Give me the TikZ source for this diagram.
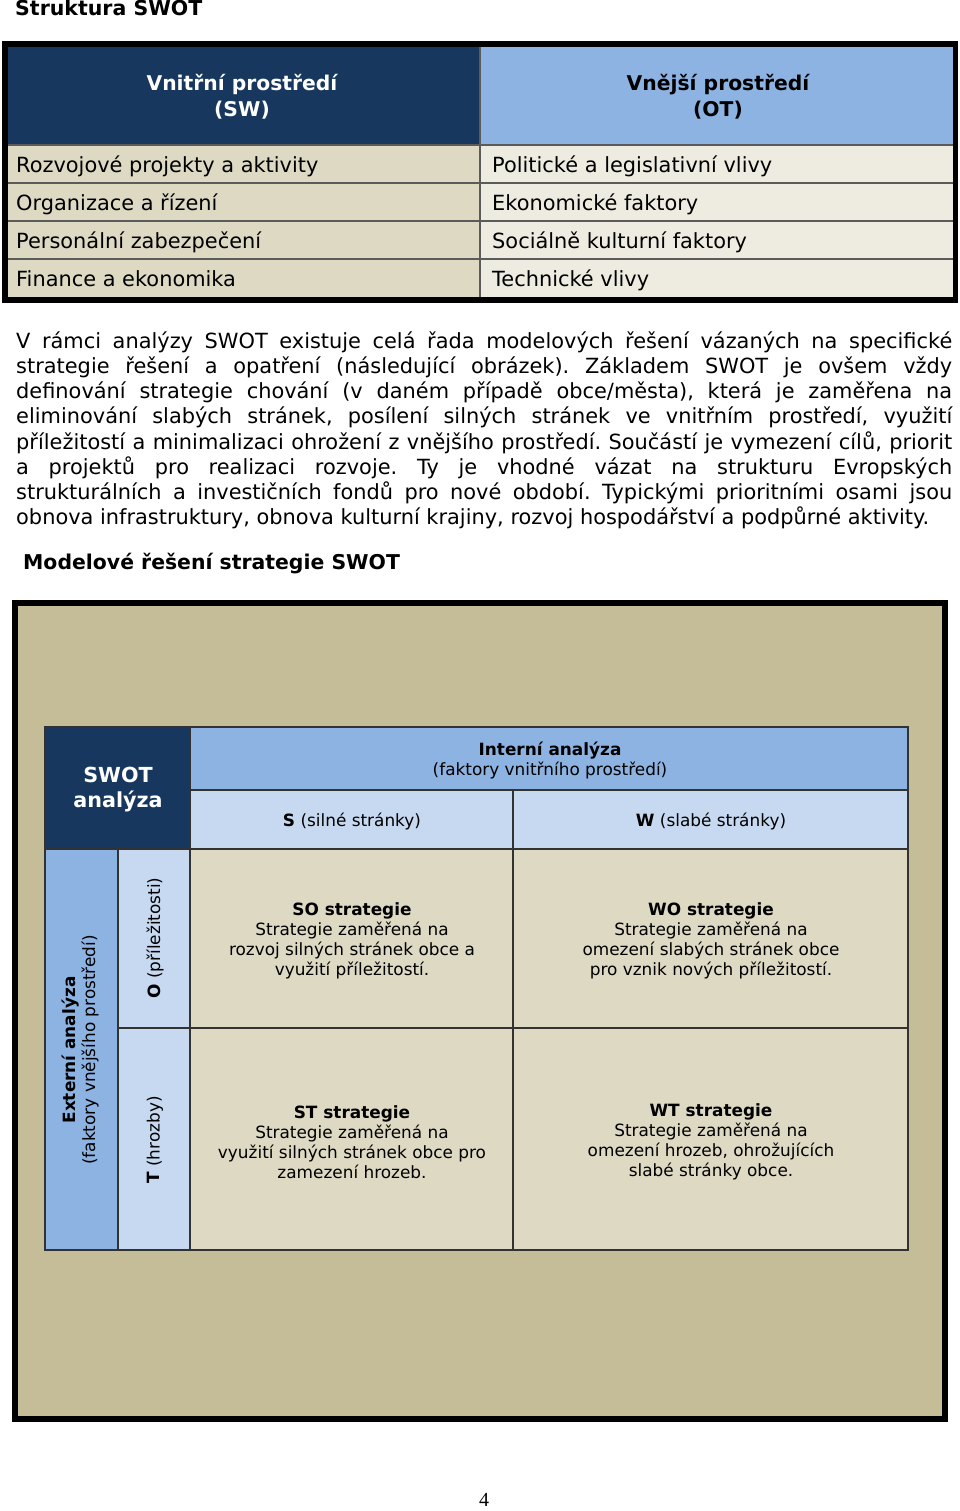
\documentclass[tikz,border=0pt]{standalone}
\usepackage{fontspec}
\setmainfont{DejaVu Sans}
\newfontfamily\pgnumfont{Liberation Serif}
\definecolor{navy}{RGB}{23,55,94}
\definecolor{hblue}{RGB}{141,179,226}
\definecolor{lblue}{RGB}{198,217,241}
\definecolor{beige}{RGB}{221,217,195}
\definecolor{lbeige}{RGB}{238,236,225}
\definecolor{tan}{RGB}{196,189,151}
\definecolor{gridc}{RGB}{50,50,50}
\tikzset{
  gridline/.style={draw=gridc,line width=1.4pt},
  rowtext/.style={anchor=mid west,inner sep=0pt,font=\fontsize{20.9}{25}\selectfont},
  partext/.style={anchor=mid west,inner sep=0pt,font=\fontsize{20.9}{25}\selectfont},
  celltext/.style={align=center,inner sep=0pt,font=\fontsize{16.9}{20}\selectfont},
  hdrtext/.style={align=center,inner sep=0pt,font=\bfseries\fontsize{20.3}{26}\selectfont},
}
\begin{document}
\frenchspacing
\begin{tikzpicture}[x=1pt,y=-1pt]
\useasboundingbox (0,0) rectangle (960,1511);
\fill[white] (0,0) rectangle (960,1511);

% title
\node[anchor=base west,inner sep=0pt,font=\bfseries\fontsize{20.5}{24}\selectfont] (title) at (15,16) {Struktura SWOT};

% table 1
\fill[navy] (7,47) rectangle (480,145);
\fill[hblue] (480,47) rectangle (953,145);
\foreach \i in {0,1,2,3}{
  \fill[beige] (7,145+38*\i) rectangle (480,183+38*\i);
  \fill[lbeige] (480,145+38*\i) rectangle (953,183+38*\i);
}
\foreach \yy in {145,183,221,259}{
  \draw[gridline,draw=gridc!80] (7,\yy) -- (953,\yy);
}
\draw[gridline,draw=gridc!80] (480,47) -- (480,297);
\draw[line width=5.5pt] (4.75,44) rectangle (955.25,300);

\node[hdrtext,text=white] (sw) at (242,97) {Vnitřní prostředí\\(SW)};
\node[hdrtext] (ot) at (718,97) {Vnější prostředí\\(OT)};
\node[rowtext] (r1) at (16,170) {Rozvojové projekty a aktivity};
\node[rowtext] (r2) at (16,208) {Organizace a řízení};
\node[rowtext] (r3) at (16,246) {Personální zabezpečení};
\node[rowtext] (r4) at (16,284) {Finance a ekonomika};
\node[rowtext] (s1) at (492,170) {Politické a legislativní vlivy};
\node[rowtext] (s2) at (492,208) {Ekonomické faktory};
\node[rowtext] (s3) at (492,246) {Sociálně kulturní faktory};
\node[rowtext] (s4) at (492,284) {Technické vlivy};

% paragraph
\node[partext] (p1) at (16,346) {\makebox[936pt][s]{V rámci analýzy SWOT existuje celá řada modelových řešení vázaných na specifické}};
\node[partext] (p2) at (16,371) {\makebox[936pt][s]{strategie řešení a opatření (následující obrázek). Základem SWOT je ovšem vždy}};
\node[partext] (p3) at (16,396) {\makebox[936pt][s]{definování strategie chování (v daném případě obce/města), která je zaměřena na}};
\node[partext] (p4) at (16,421) {\makebox[936pt][s]{eliminování slabých stránek, posílení silných stránek ve vnitřním prostředí, využití}};
\node[partext] (p5) at (16,447) {\makebox[936pt][s]{příležitostí a minimalizaci ohrožení z vnějšího prostředí. Součástí je vymezení cílů, priorit}};
\node[partext] (p6) at (16,472) {\makebox[936pt][s]{a projektů pro realizaci rozvoje. Ty je vhodné vázat na strukturu Evropských}};
\node[partext] (p7) at (16,497) {\makebox[936pt][s]{strukturálních a investičních fondů pro nové období. Typickými prioritními osami jsou}};
\node[partext] (p8) at (16,522) {obnova infrastruktury, obnova kulturní krajiny, rozvoj hospodářství a podpůrné aktivity.};

% heading 2
\node[anchor=mid west,inner sep=0pt,font=\bfseries\fontsize{20.4}{24}\selectfont] (h2) at (23,567) {Modelové řešení strategie SWOT};

% big box
\fill[tan] (15,603) rectangle (945,1419);
\draw[line width=6pt] (15,603) rectangle (945,1419);

% grid fills
\fill[navy] (45,727) rectangle (190,849);
\fill[hblue] (190,727) rectangle (908,790);
\fill[lblue] (190,790) rectangle (908,849);
\fill[hblue] (45,849) rectangle (118,1250);
\fill[lblue] (118,849) rectangle (190,1250);
\fill[beige] (190,849) rectangle (908,1250);
% grid lines
\draw[gridline] (45,727) rectangle (908,1250);
\draw[gridline] (190,727) -- (190,1250);
\draw[gridline] (190,790) -- (908,790);
\draw[gridline] (45,849) -- (908,849);
\draw[gridline] (513,790) -- (513,1250);
\draw[gridline] (118,849) -- (118,1250);
\draw[gridline] (118,1028) -- (908,1028);

% grid texts
\node[hdrtext,text=white,font=\bfseries\fontsize{20.7}{25}\selectfont] (swot) at (118,790) {SWOT\\analýza};
\node[celltext] (int) at (550,760) {\textbf{Interní analýza}\\(faktory vnitřního prostředí)};
\node[celltext] (s) at (352,821) {\textbf{S} (silné stránky)};
\node[celltext] (w) at (711,821) {\textbf{W} (slabé stránky)};
\node[celltext,rotate=90] (ext) at (80,1050) {\textbf{Externí analýza}\\(faktory vnějšího prostředí)};
\node[celltext,rotate=90] (o) at (155,938) {\textbf{O} (příležitosti)};
\node[celltext,rotate=90] (t) at (155,1140) {\textbf{T} (hrozby)};
\node[celltext] (so) at (352,941) {\textbf{SO strategie}\\Strategie zaměřená na\\rozvoj silných stránek obce a\\využití příležitostí.};
\node[celltext] (wo) at (711,941) {\textbf{WO strategie}\\Strategie zaměřená na\\omezení slabých stránek obce\\pro vznik nových příležitostí.};
\node[celltext] (st) at (352,1142) {\textbf{ST strategie}\\Strategie zaměřená na\\využití silných stránek obce pro\\zamezení hrozeb.};
\node[celltext] (wt) at (711,1142) {\textbf{WT strategie}\\Strategie zaměřená na\\omezení hrozeb, ohrožujících\\slabé stránky obce.};

% page number
\node[inner sep=0pt,font=\pgnumfont\fontsize{20}{24}\selectfont] (pg) at (484,1500) {4};
\end{tikzpicture}
\end{document}
